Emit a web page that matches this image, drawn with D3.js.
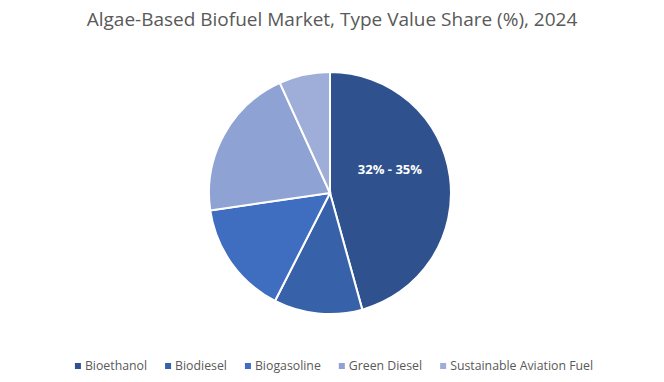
<!DOCTYPE html>
<html>
<head>
<meta charset="utf-8">
<script src="https://cdn.jsdelivr.net/npm/d3@7"></script>
<style>
  body { margin: 0; background: #fff; }
  text { font-family: "Open Sans", sans-serif; }
</style>
</head>
<body>
<div id="chart"></div>
<script>
var categories = ['Bioethanol', 'Biodiesel', 'Biogasoline', 'Green Diesel', 'Sustainable Aviation Fuel'];
var shares = [45.7, 11.8, 15.2, 20.5, 6.8];
var labels = ['32% - 35%', '', '', '', ''];
var colors = ['#2f528f', '#3761a8', '#3f6dbf', '#8fa2d4', '#9eaed9'];

var width = 664, height = 382;
var radius = 121;

var svg = d3.select("#chart").append("svg")
  .attr("width", width)
  .attr("height", height);

svg.append("text")
  .attr("x", width / 2)
  .attr("y", 26)
  .attr("text-anchor", "middle")
  .attr("fill", "#595959")
  .style("font-size", "19px")
  .text("Algae-Based Biofuel Market, Type Value Share (%), 2024");

var data = categories.map(function(c, i) {
  return { name: c, value: shares[i], label: labels[i] };
});

var pie = d3.pie().sort(null).value(function(d) { return d.value; });
var slices = pie(data);

var arc = d3.arc().innerRadius(0).outerRadius(radius);

var color = d3.scaleOrdinal().domain(categories).range(colors);

var g = svg.append("g").attr("transform", "translate(330, 193)");

g.selectAll("path")
  .data(slices)
  .enter()
  .append("path")
  .attr("d", arc)
  .attr("fill", function(s) { return color(s.data.name); })
  .attr("stroke", "#fff")
  .attr("stroke-width", 2);

// data label, placed inside the slice
g.selectAll("text.lbl")
  .data(slices.filter(function(s) { return s.data.label; }))
  .enter()
  .append("text")
  .attr("class", "lbl")
  .attr("transform", function(s) {
    var a = s.startAngle + (s.endAngle - s.startAngle) * 0.42;
    var r = radius * 0.53;
    return "translate(" + (Math.sin(a) * r) + "," + (-Math.cos(a) * r + 4) + ")";
  })
  .attr("text-anchor", "middle")
  .attr("fill", "#fff")
  .style("font-size", "13px")
  .style("font-weight", "bold")
  .text(function(s) { return s.data.label; });

// legend
var legend = svg.append("g");
var x = 0;
categories.forEach(function(c) {
  var item = legend.append("g").attr("transform", "translate(" + x + ",0)");
  item.append("rect")
    .attr("x", 0).attr("y", -7)
    .attr("width", 6).attr("height", 6)
    .attr("fill", color(c));
  var t = item.append("text")
    .attr("x", 10)
    .attr("y", 0)
    .attr("fill", "#595959")
    .style("font-size", "12.3px")
    .text(c);
  x += 10 + t.node().getComputedTextLength() + 18;
});
var legendWidth = x - 18;
legend.attr("transform", "translate(" + ((width - legendWidth) / 2 + 2) + ",370)");
</script>
</body>
</html>
